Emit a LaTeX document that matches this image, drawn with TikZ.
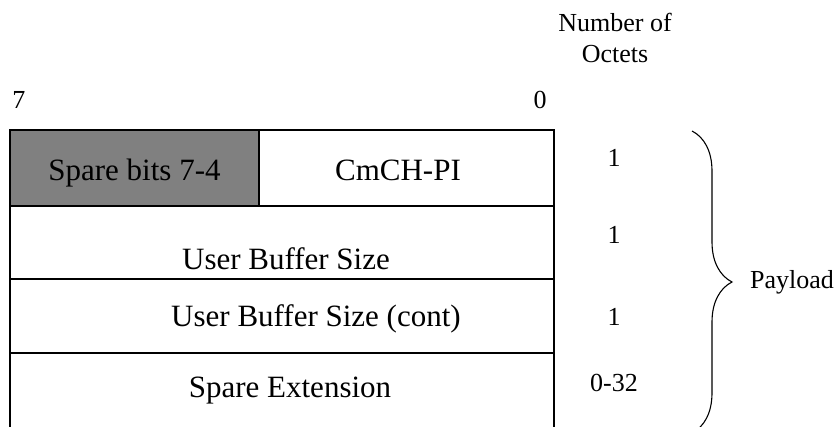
\documentclass[tikz,border=0pt]{standalone}
\usepackage{fontspec}
\setmainfont{Liberation Serif}
\usepackage{xcolor}
\usetikzlibrary{positioning,decorations.pathreplacing}
\definecolor{sparegray}{RGB}{128,128,128}

\begin{document}
\begin{tikzpicture}[
  x=1pt, y=-1pt,
  cell/.style={rectangle, draw=black, line width=1.2pt, inner sep=0pt},
  field/.style={font=\fontsize{31}{36}\selectfont, inner sep=0pt,
                text height=22pt, text depth=7pt},
  note/.style={font=\fontsize{26}{30}\selectfont, inner sep=0pt, align=center},
  paybrace/.style={decorate, decoration={brace, amplitude=40pt}, line width=1.1pt}
]
  \clip (0,0) rectangle (838,427);
  % bit numbering and header
  \node[note] (msb) at (19,100) {7};
  \node[note] (lsb) at (540,100) {0};
  \node[note] (octhead) at (615,38) {Number of\\[1pt]Octets};

  % octet rows
  \node[cell, fill=sparegray, minimum width=249pt, minimum height=75pt] (spare) at (134.5,168) {};
  \node[cell, minimum width=295pt, minimum height=76pt] (cmch) at (406.5,168) {};
  \node[cell, minimum width=544pt, minimum height=73pt] (ubs) at (282,242.5) {};
  \node[cell, minimum width=544pt, minimum height=74pt] (ubsc) at (282,316) {};
  \coordinate (extnw) at (10,353);
  \coordinate (extne) at (554,353);
  \coordinate (extsw) at (10,430);
  \coordinate (extse) at (554,430);
  \draw[line width=1.2pt] (extsw) -- (extnw);
  \draw[line width=1.2pt] (extse) -- (extne);
  \draw[line width=2.2pt] (extnw) -- (extne);
  \draw[line width=1.2pt] (spare.north west) rectangle (spare.south east);

  \node[field] (sparetxt) at (spare.center) [yshift=-5pt] {Spare bits 7-4};
  \node[field] (cmchtxt) at (398,173) {CmCH-PI};
  \node[field] (ubstxt) at (286,262) {User Buffer Size};
  \node[field] (ubsctxt) at (316,319) {User Buffer Size (cont)};
  \node[field] (exttxt) at (290,390) {Spare Extension};

  % octet counts
  \node[note] (n1) at (614,158) {1};
  \node[note] (n2) at (614,235) {1};
  \node[note] (n3) at (614,317) {1};
  \node[note] (n4) at (614,383) {0-32};

  % payload brace
  \coordinate (bracetop) at (692,131);
  \coordinate (bracebot) at (692,433);
  \draw[paybrace] (bracetop) -- (bracebot);
  \node[note, anchor=west] (payload) at (750,282) {Payload};
\end{tikzpicture}
\end{document}
